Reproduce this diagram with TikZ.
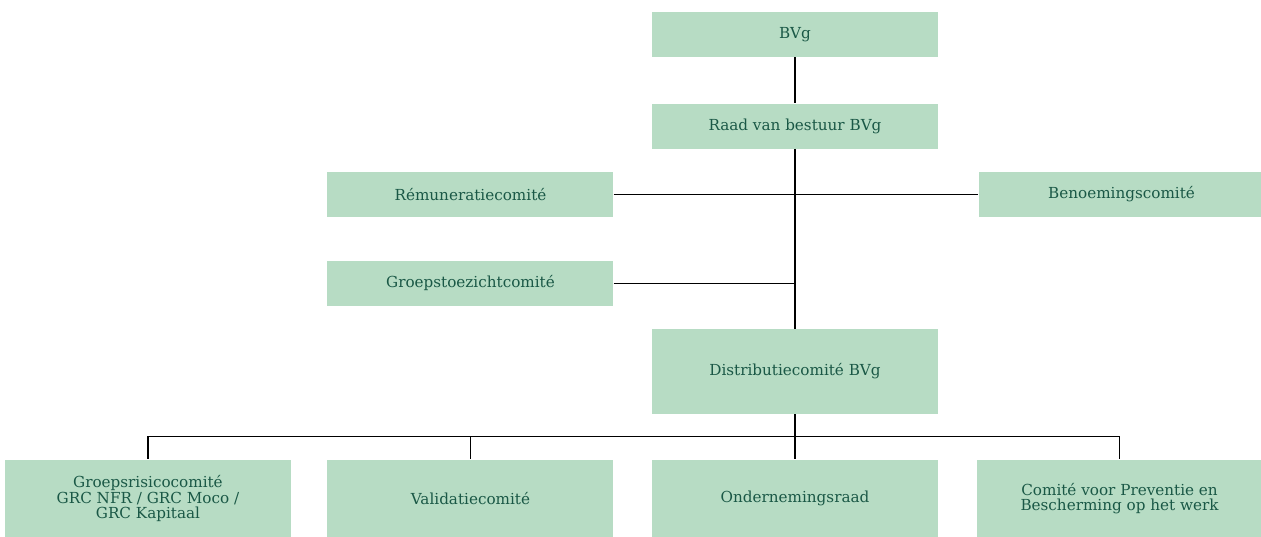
\documentclass[tikz,border=0pt]{standalone}
\usepackage{fontspec}
\setmainfont{DejaVu Serif}
\usepackage{tikz}
\usetikzlibrary{positioning}
\definecolor{boxgreen}{RGB}{183, 220, 196}
\definecolor{txtgreen}{RGB}{26, 88, 70}

\begin{document}
\begin{tikzpicture}[
    x=0.75pt, y=-0.75pt,
    every node/.style={font=\fontsize{11.4}{11.4}\selectfont},
    orgbox/.style={fill=boxgreen, text=txtgreen, align=center, inner sep=0pt,
        minimum width=214.5pt, minimum height=33.75pt},
    link/.style={draw=black, line width=0.9pt}
]
    \useasboundingbox (0,0) rectangle (1261,536);
    % top of the structure
    \node[orgbox] (bvg) at (795,34.5) {BVg};
    \node[orgbox, below=34.5pt of bvg] (raad) {Raad van bestuur BVg};
    \node[orgbox, below left=17.25pt and 28.5pt of raad] (remun) {Rémuneratiecomité};
    \node[orgbox, below right=17.25pt and 30pt of raad] (benoem) {Benoemingscomité};
    \node[orgbox, below=32.25pt of remun] (toezicht) {Groepstoezichtcomité};
    \node[orgbox, below=135pt of raad, minimum height=63.75pt] (distr) {Distributiecomité BVg};
    % bottom row
    \node[orgbox, below=33.75pt of distr, minimum height=58.5pt] (onder) {Ondernemingsraad};
    \node[orgbox, left=28.5pt of onder, minimum height=58.5pt] (valid) {Validatiecomité};
    \node[orgbox, left=27pt of valid, minimum height=58.5pt] (risico) {Groepsrisicocomité\\GRC NFR / GRC Moco /\\GRC Kapitaal};
    \node[orgbox, right=28.5pt of onder, minimum height=58.5pt] (preventie) {Comité voor Preventie en\\Bescherming op het werk};

    \draw[link] (bvg) -- (raad);
    \draw[link] (raad) -- (distr);
    \draw[link] (remun) -- (benoem);
    \draw[link] (toezicht.east) -- (toezicht -| distr.north);
    \coordinate[below=16.5pt of distr.south] (fork);
    \draw[link] (distr.south) -- (fork);
    \foreach \n in {risico, valid, onder, preventie}
        \draw[link] (fork) -| (\n.north);
\end{tikzpicture}
\end{document}
